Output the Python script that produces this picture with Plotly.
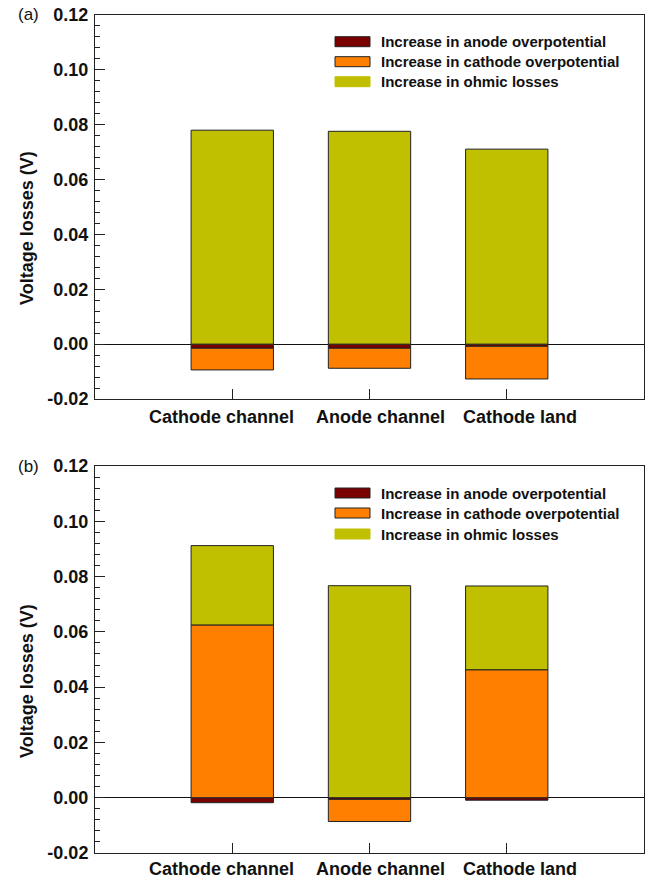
import plotly.graph_objects as go

categories = ["Cathode channel", "Anode channel", "Cathode land"]
series_names = ["Increase in anode overpotential",
                "Increase in cathode overpotential",
                "Increase in ohmic losses"]
a_anode = [-0.0015, -0.0015, -0.0008]
a_cathode = [-0.0079, -0.0073, -0.0119]
a_ohmic = [0.0780, 0.0776, 0.0711]
b_anode = [-0.0018, -0.0006, -0.0009]
b_cathode = [0.0625, -0.0080, 0.0463]
b_ohmic = [0.0287, 0.0767, 0.0303]
y_ticks = [-0.02, 0.00, 0.02, 0.04, 0.06, 0.08, 0.10, 0.12]
y_ticktext = ["-0.02", "0.00", "0.02", "0.04", "0.06", "0.08", "0.10", "0.12"]

colors = ["#7a0000", "#ff8000", "#c0c000"]
edge = "#222222"
W, H = 651, 881
FONT = "Liberation Sans, Arial, sans-serif"

fig = go.Figure()
xs = list(range(len(categories)))
for panel, (an, ca, oh) in enumerate([(a_anode, a_cathode, a_ohmic),
                                      (b_anode, b_cathode, b_ohmic)]):
    xa = "x" if panel == 0 else "x2"
    ya = "y" if panel == 0 else "y2"
    for name, vals, col in zip(series_names, [an, ca, oh], colors):
        fig.add_trace(go.Bar(x=xs, y=vals, name=name, marker_color=col,
                             marker_line=dict(color=edge, width=1),
                             width=0.6, xaxis=xa, yaxis=ya, showlegend=False))

def px_x(p):
    return p / W

def px_y(p):
    return 1 - p / H

top_dom = [px_y(399), px_y(15)]
bot_dom = [px_y(853), px_y(466)]
xdom = [px_x(95), px_x(644)]

xcommon = dict(range=[-1, 3], tickvals=xs, ticktext=["", "", ""], ticks="inside",
               ticklen=10, tickcolor="#222", showline=True, mirror=True,
               linecolor="#222", linewidth=1, showgrid=False, zeroline=False,
               automargin=False, showticklabels=False,
               domain=xdom, fixedrange=True)
ycommon = dict(range=[-0.02, 0.12], tickvals=y_ticks, ticktext=y_ticktext,
               ticks="inside", ticklen=10, tickcolor="#222", showline=True,
               mirror=True, linecolor="#222", linewidth=1, showgrid=False,
               zeroline=True, zerolinecolor="#111", zerolinewidth=1,
               ticklabelstandoff=2, automargin=False,
               minor=dict(dtick=0.004, tick0=0, ticks="inside", ticklen=5,
                          tickcolor="#222", showgrid=False),
               tickfont=dict(family=FONT, size=18, color="#111", weight="bold"),
               fixedrange=True)

fig.update_layout(
    width=W, height=H, margin=dict(l=0, r=0, t=0, b=0, autoexpand=False),
    paper_bgcolor="white", plot_bgcolor="white", barmode="relative",
    bargap=0.4, showlegend=False,
    xaxis=dict(**xcommon, anchor="y"),
    yaxis=dict(**ycommon, domain=top_dom, anchor="x"),
    xaxis2=dict(**xcommon, anchor="y2"),
    yaxis2=dict(**ycommon, domain=bot_dom, anchor="x2"),
)

annotations = []
shapes = []
# panel labels, y titles, category labels
label_centers = [221.5, 380, 520]
for lab, ytop, ytitle, ycat in [("(a)", 15, 228, 417), ("(b)", 466, 681, 869)]:
    annotations.append(dict(text=lab, x=px_x(28), y=px_y(ytop), xref="paper",
                            yref="paper", showarrow=False, xanchor="center",
                            yanchor="middle",
                            font=dict(family=FONT, size=17, color="#111")))
    annotations.append(dict(text="Voltage losses (V)", x=px_x(27), y=px_y(ytitle),
                            xref="paper", yref="paper", showarrow=False,
                            textangle=-90, xanchor="center", yanchor="middle",
                            font=dict(family=FONT, size=18, color="#111",
                                      weight="bold")))
    for cat, cx in zip(categories, label_centers):
        annotations.append(dict(text=cat, x=px_x(cx), y=px_y(ycat), xref="paper",
                                yref="paper", showarrow=False, xanchor="center",
                                yanchor="middle",
                                font=dict(family=FONT, size=18, color="#111",
                                          weight="bold")))

# legends
for rows in [[41.7, 61.7, 81.7], [493, 513, 534]]:
    for i, (name, col) in enumerate(zip(series_names, colors)):
        yc = rows[i]
        shapes.append(dict(type="rect", xref="paper", yref="paper",
                           x0=px_x(335), x1=px_x(370), y0=px_y(yc + 5),
                           y1=px_y(yc - 5), fillcolor=col,
                           line=dict(color=edge if i < 2 else col, width=1)))
        annotations.append(dict(text=name, x=px_x(379), y=px_y(yc), xref="paper",
                                yref="paper", showarrow=False, xanchor="left",
                                yanchor="middle",
                                font=dict(family=FONT, size=15, color="#111",
                                          weight="bold")))

fig.update_layout(annotations=annotations, shapes=shapes)
fig.write_html("out.html", config={"displayModeBar": False},
               post_script="document.body.style.margin='0';"
                           "document.body.style.overflow='hidden';")
